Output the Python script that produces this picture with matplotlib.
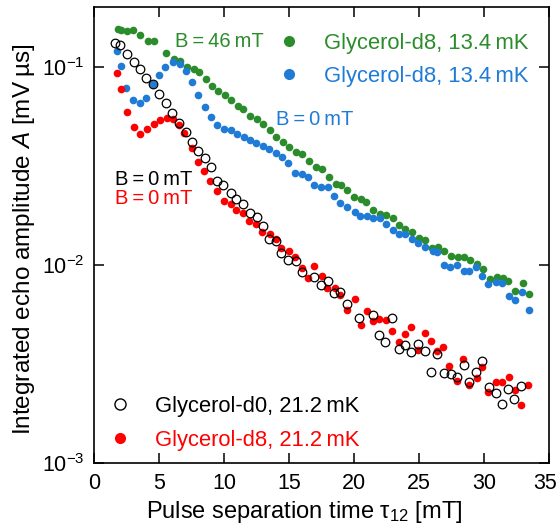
import numpy as np
import matplotlib
matplotlib.use("Agg")
import matplotlib.pyplot as plt
from matplotlib.lines import Line2D
from matplotlib.ticker import NullLocator
from matplotlib.transforms import ScaledTranslation

# Glycerol-d8, 13.4 mK, B = 46 mT
x_green = [1.82, 2.09, 2.56, 3.02, 3.57, 4.13, 4.64, 5.51, 6.12, 6.64, 7.12, 7.67, 8.06, 8.58,
           9.07, 9.55, 10.06, 10.54, 11.06, 11.45, 12.01, 12.53, 13.03, 13.50, 14.02, 14.52,
           15.01, 15.53, 16.03, 16.54, 17.05, 17.57, 18.08, 18.58, 19.00, 19.49, 20.03, 20.52,
           20.93, 21.45, 22.01, 22.49, 23.03, 23.47, 23.95, 24.43, 25.00, 25.49, 25.99, 26.45,
           26.91, 27.45, 27.99, 28.44, 28.94, 29.49, 29.92, 30.45, 30.99, 31.45, 31.88, 32.42,
           32.98, 33.46]
y_green = [0.1547, 0.1528, 0.1506, 0.1530, 0.1438, 0.1341, 0.1341, 0.1171, 0.1088, 0.1073,
           0.0993, 0.0969, 0.0936, 0.0866, 0.0802, 0.0752, 0.0717, 0.0678, 0.0633, 0.0614,
           0.0562, 0.0543, 0.0512, 0.0477, 0.0443, 0.0415, 0.0393, 0.0372, 0.0361, 0.0336,
           0.0313, 0.0303, 0.0279, 0.0257, 0.0254, 0.0239, 0.0219, 0.0216, 0.0208, 0.01887,
           0.01805, 0.01786, 0.01723, 0.01585, 0.0151, 0.01467, 0.01367, 0.01337, 0.01217,
           0.01231, 0.01179, 0.01102, 0.01100, 0.01100, 0.01058, 0.01005, 0.00954, 0.00849,
           0.00867, 0.00862, 0.00827, 0.00741, 0.00811, 0.00714]

# Glycerol-d8, 13.4 mK, B = 0 mT
x_blue = [1.80, 2.07, 2.47, 3.02, 3.52, 4.03, 4.51, 4.97, 5.49, 6.11, 6.62, 7.06, 7.54, 8.02,
          8.55, 9.01, 9.47, 10.02, 10.52, 11.00, 11.51, 12.01, 12.47, 12.98, 13.49, 13.98,
          14.48, 14.94, 15.49, 15.97, 16.43, 16.91, 17.47, 18.02, 18.45, 18.96, 19.46, 20.05,
          20.48, 21.00, 21.48, 22.00, 22.46, 22.99, 23.49, 23.93, 24.43, 24.94, 25.46, 26.05,
          26.36, 26.91, 27.38, 27.90, 28.46, 28.88, 29.42, 29.88, 30.30, 30.96, 31.35, 31.93,
          32.39, 32.92, 33.49]
y_blue = [0.1204, 0.1012, 0.0785, 0.0682, 0.0655, 0.0695, 0.0813, 0.0907, 0.0995, 0.1057,
          0.1036, 0.0956, 0.0840, 0.0721, 0.0623, 0.0560, 0.0510, 0.0483, 0.0480, 0.0456,
          0.0440, 0.0425, 0.0414, 0.0400, 0.0386, 0.0366, 0.0349, 0.0328, 0.0291, 0.0289,
          0.0276, 0.0254, 0.0247, 0.0246, 0.0223, 0.0206, 0.0196, 0.0185, 0.01766, 0.01754,
          0.01723, 0.01719, 0.01604, 0.01496, 0.01428, 0.01425, 0.01352, 0.01283, 0.01231,
          0.01173, 0.01166, 0.01002, 0.00979, 0.00999, 0.00929, 0.00929, 0.00970, 0.00874,
          0.00804, 0.00818, 0.00807, 0.00698, 0.00665, 0.00729, 0.00591]

# Glycerol-d0, 21.2 mK, B = 0 mT
x_black = [1.63, 2.03, 2.56, 3.05, 3.53, 4.03, 4.51, 5.03, 5.55, 6.02, 6.56, 7.06, 7.56, 8.02,
           8.52, 9.01, 9.49, 9.95, 10.50, 10.96, 11.44, 12.01, 12.51, 12.99, 13.47, 13.98,
           14.41, 14.94, 15.55, 16.01, 16.96, 17.48, 18.00, 18.46, 18.96, 19.45, 20.41, 21.45,
           21.92, 22.40, 22.95, 23.47, 23.96, 24.35, 24.94, 25.46, 25.91, 26.42, 26.92, 27.44,
           27.90, 28.46, 28.82, 29.40, 29.84, 30.36, 30.93, 31.38, 31.85, 32.34, 32.85]
y_black = [0.1321, 0.1281, 0.1153, 0.1057, 0.0969, 0.0880, 0.0814, 0.0725, 0.0655, 0.0586,
           0.0522, 0.0468, 0.0417, 0.0375, 0.0345, 0.0313, 0.0265, 0.0252, 0.0231, 0.0216,
           0.0203, 0.01827, 0.01750, 0.01572, 0.01348, 0.01324, 0.01146, 0.01056, 0.01041,
           0.00924, 0.00867, 0.00788, 0.00830, 0.00723, 0.00733, 0.00637, 0.00540, 0.00556,
           0.00442, 0.00406, 0.00537, 0.00376, 0.00395, 0.00362, 0.00398, 0.00367, 0.00289,
           0.00354, 0.00284, 0.00281, 0.00272, 0.00312, 0.00257, 0.00289, 0.00326, 0.00242,
           0.00226, 0.00199, 0.00235, 0.00211, 0.00244]

# Glycerol-d8, 21.2 mK, B = 0 mT
x_red = [1.75, 2.04, 2.54, 3.04, 3.56, 4.06, 4.61, 5.09, 5.61, 6.07, 6.50, 6.96, 7.52, 8.01,
         8.49, 8.95, 9.43, 10.02, 10.54, 10.94, 11.49, 11.95, 12.45, 12.95, 13.50, 14.02,
         14.40, 15.00, 15.49, 15.98, 16.49, 16.95, 17.50, 17.96, 18.50, 18.95, 19.46, 20.05,
         20.52, 20.99, 21.46, 21.94, 22.46, 22.95, 23.47, 23.93, 24.38, 24.94, 25.46, 25.96,
         26.40, 26.84, 27.31, 27.90, 28.40, 28.87, 29.44, 29.85, 30.34, 30.89, 31.37, 31.93,
         32.39, 32.85, 33.41]
y_red = [0.0933, 0.0768, 0.0594, 0.0498, 0.0456, 0.0483, 0.0511, 0.0537, 0.0553, 0.0547,
         0.0506, 0.0463, 0.0388, 0.0329, 0.0297, 0.0264, 0.0235, 0.0210, 0.0203, 0.01893,
         0.01837, 0.01667, 0.01598, 0.01467, 0.01437, 0.01352, 0.01214, 0.01170, 0.01097,
         0.00963, 0.00860, 0.00982, 0.00874, 0.00761, 0.00761, 0.00706, 0.00591, 0.00672,
         0.00498, 0.00583, 0.00519, 0.00532, 0.00524, 0.00463, 0.00409, 0.00449, 0.00487,
         0.00372, 0.00452, 0.00414, 0.00366, 0.00386, 0.00309, 0.00260, 0.00335, 0.00247,
         0.00269, 0.00306, 0.00229, 0.00257, 0.00257, 0.00273, 0.00234, 0.00197, 0.00247]

green = "#2a8c2a"
blue = "#1f7bd6"
red = "#ff0000"

plt.rcParams["font.family"] = ["Liberation Sans", "DejaVu Sans"]
plt.rcParams["mathtext.fontset"] = "custom"
plt.rcParams["mathtext.rm"] = "Liberation Sans"
plt.rcParams["mathtext.it"] = "Liberation Sans:italic"
plt.rcParams["font.size"] = 15

fig = plt.figure(figsize=(5.59, 5.32), dpi=100)
ax = fig.add_axes([0.1682, 0.1297, 0.8139, 0.8571])

ms = 5.5
ax.plot(x_green, y_green, "o", ms=ms, color=green, mec="none")
ax.plot(x_blue, y_blue, "o", ms=ms, color=blue, mec="none")
ax.plot(x_red, y_red, "o", ms=ms, color=red, mec="none")
ax.plot(x_black, y_black, "o", ms=6.2, mfc="none", mec="black", mew=0.9)

ax.set_yscale("log")
ax.set_xlim(0, 35)
ax.set_ylim(1e-3, 0.2)
ax.set_xticks(np.arange(0, 36, 5))
ax.set_yticks([1e-3, 1e-2, 1e-1])
ax.yaxis.set_minor_locator(NullLocator())
ax.tick_params(direction="in", top=True, right=True, length=7, width=1.1, pad=7, labelsize=15.5)
for s in ax.spines.values():
    s.set_linewidth(1.2)

# pull the last x tick label a little inwards so it stays inside the figure
last = ax.xaxis.get_major_ticks()[-1].label1
last.set_transform(last.get_transform() + ScaledTranslation(-4 / 100, 0, fig.dpi_scale_trans))

ax.set_xlabel("Pulse separation time τ$_{12}$ [mT]", fontsize=17)
ax.xaxis.set_label_coords(0.462, -0.08)
ax.set_ylabel("Integrated echo amplitude $A$ [mV\u2009µs]", fontsize=17.5)
ax.yaxis.set_label_coords(-0.125, 0.49)

ts = "\u2009"
ax.text(6.2, 0.1346, f"B{ts}={ts}46{ts}mT", color=green, fontsize=14.5, va="center")
ax.text(13.98, 0.0543, f"B{ts}={ts}0{ts}mT", color=blue, fontsize=14.5, va="center")
ax.text(1.61, 0.0268, f"B{ts}={ts}0{ts}mT", color="black", fontsize=14.5, va="center")
ax.text(1.61, 0.0216, f"B{ts}={ts}0{ts}mT", color=red, fontsize=14.5, va="center")

h_top = [Line2D([], [], ls="none", marker="o", ms=8, color=green, mec="none"),
         Line2D([], [], ls="none", marker="o", ms=8, color=blue, mec="none")]
leg1 = ax.legend(h_top, [f"Glycerol-d8, 13.4{ts}mK", f"Glycerol-d8, 13.4{ts}mK"],
                 loc="upper left", bbox_to_anchor=(0.404, 0.943), frameon=False,
                 borderpad=0, borderaxespad=0, handlelength=1.0, handletextpad=1.12,
                 labelspacing=0.55, fontsize=15.8)
for t, c in zip(leg1.get_texts(), [green, blue]):
    t.set_color(c)
ax.add_artist(leg1)

h_bot = [Line2D([], [], ls="none", marker="o", ms=8, mfc="none", mec="black", mew=1.0),
         Line2D([], [], ls="none", marker="o", ms=8, color=red, mec="none")]
leg2 = ax.legend(h_bot, [f"Glycerol-d0, 21.2{ts}mK", f"Glycerol-d8, 21.2{ts}mK"],
                 loc="upper left", bbox_to_anchor=(0.032, 0.148), frameon=False,
                 borderpad=0, borderaxespad=0, handlelength=1.0, handletextpad=1.12,
                 labelspacing=0.62, fontsize=15.8)
for t, c in zip(leg2.get_texts(), ["black", red]):
    t.set_color(c)

fig.savefig("out.png", dpi=100)
